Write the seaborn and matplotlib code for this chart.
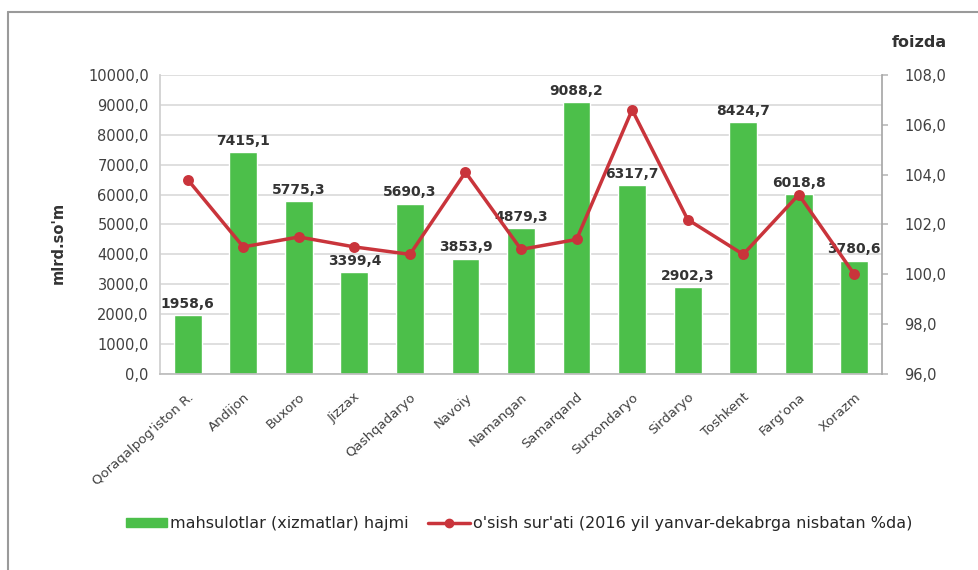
import matplotlib
matplotlib.use("Agg")
import matplotlib.pyplot as plt
from matplotlib.lines import Line2D
from matplotlib.patches import Patch
import seaborn as sns
import pandas as pd

# --- data ---
regions = ["Qoraqalpog'iston R.", "Andijon", "Buxoro", "Jizzax", "Qashqadaryo",
           "Navoiy", "Namangan", "Samarqand", "Surxondaryo", "Sirdaryo",
           "Toshkent", "Farg'ona", "Xorazm"]
volume = [1958.6, 7415.1, 5775.3, 3399.4, 5690.3, 3853.9, 4879.3,
          9088.2, 6317.7, 2902.3, 8424.7, 6018.8, 3780.6]
growth = [103.8, 101.1, 101.5, 101.1, 100.8, 104.1, 101.0,
          101.4, 106.6, 102.2, 100.8, 103.2, 100.0]
left_ticks = [0, 1000, 2000, 3000, 4000, 5000, 6000, 7000, 8000, 9000, 10000]
right_ticks = [96, 98, 100, 102, 104, 106, 108]

df = pd.DataFrame({"region": regions, "volume": volume, "growth": growth})

sns.set_theme(style="white")
plt.rcParams["font.family"] = ["DejaVu Sans"]

GREEN = "#4cbf4a"
RED = "#c9343b"
TXT = "#404040"

def fmt(v):
    return f"{v:.1f}".replace(".", ",")

fig = plt.figure(figsize=(9.79, 5.70), dpi=100)
ax = fig.add_axes([0.1634, 0.3439, 0.7376, 0.5245])

sns.barplot(data=df, x="region", y="volume", color=GREEN, saturation=1,
            width=0.5, ax=ax, zorder=2)
ax.set_ylim(0, 10000)
ax.set_yticks(left_ticks)
ax.set_yticklabels([fmt(t) for t in left_ticks], fontsize=10.5, color=TXT)
ax.yaxis.grid(True, color="#d9d9d9", linewidth=1.2, zorder=0)
ax.set_axisbelow(True)
ax.set_xlabel("")
ax.set_ylabel("")
ax.set_xticks(range(len(regions)))
ax.set_xticklabels(regions, rotation=42, ha="right", rotation_mode="anchor",
                   fontsize=9.5, color=TXT)
ax.tick_params(axis="x", length=0, pad=12)
ax.tick_params(axis="y", length=0, pad=8)
ax.spines["top"].set_visible(False)
ax.spines["left"].set_color("#cfcfcf")
ax.spines["bottom"].set_color("#bdbdbd")
ax.spines["right"].set_visible(False)

for i, v in enumerate(volume):
    ax.text(i, v + 150, fmt(v), ha="center", va="bottom", fontsize=10,
            fontweight="bold", color="#333333", zorder=5)

ax2 = ax.twinx()
sns.pointplot(data=df, x="region", y="growth", color=RED, ax=ax2,
              markers="o", markersize=6, linewidth=2.5)
ax2.set_ylim(96, 108)
ax2.set_yticks(right_ticks)
ax2.set_yticklabels([fmt(t) for t in right_ticks], fontsize=10.5, color=TXT)
ax2.set_ylabel("")
ax2.set_xlabel("")
ax2.tick_params(axis="y", length=4, color="#bdbdbd", pad=12, direction="out")
for side in ["top", "left", "bottom"]:
    ax2.spines[side].set_visible(False)
ax2.spines["right"].set_color("#a8a8a8")
ax2.set_xlim(-0.5, len(regions) - 0.5)
ax.set_xlim(-0.5, len(regions) - 0.5)

fig.text(0.06, 0.574, "mlrd.so'm", rotation=90, ha="center", va="center",
         fontsize=10.5, fontweight="bold", color="#333333")
fig.text(0.939, 0.926, "foizda", ha="center", va="center",
         fontsize=11.5, fontweight="bold", color="#333333")

handles = [Patch(facecolor=GREEN, edgecolor=GREEN),
           Line2D([0], [0], color=RED, linewidth=2.5, marker="o", markersize=6)]
fig.legend(handles, ["mahsulotlar (xizmatlar) hajmi",
                     "o'sish sur'ati (2016 yil yanvar-dekabrga nisbatan %da)"],
           loc="center", bbox_to_anchor=(0.53, 0.082), ncol=2, frameon=False,
           fontsize=11.5, handlelength=2.6, handleheight=0.5, columnspacing=1.2,
           handletextpad=0.2)

# outer frame lines (top and left)
fig.add_artist(Line2D([0.008, 1.0], [0.979, 0.979], color="#9a9a9a", linewidth=1.5))
fig.add_artist(Line2D([0.008, 0.008], [0.0, 0.979], color="#9a9a9a", linewidth=1.5))

fig.savefig("out.png", dpi=100)
